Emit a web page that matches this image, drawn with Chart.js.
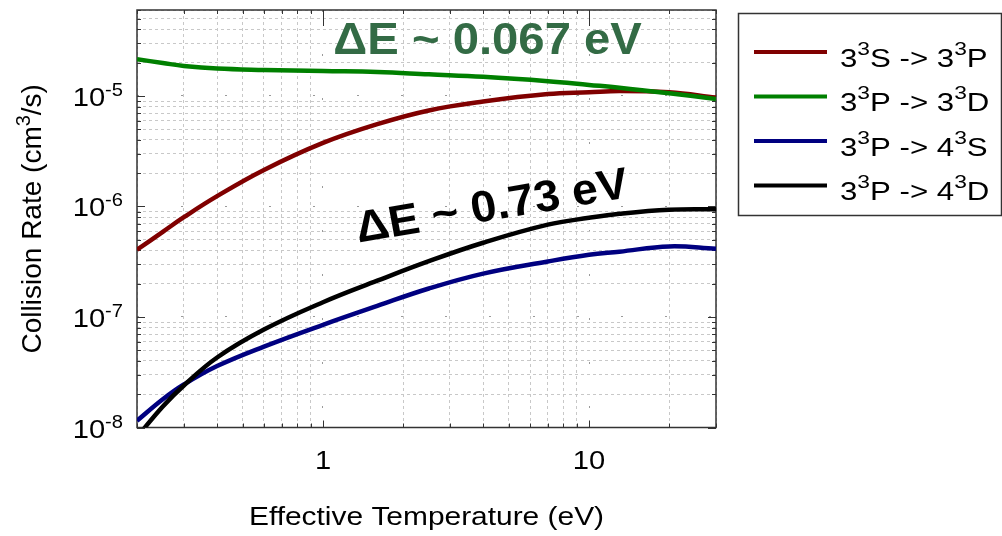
<!DOCTYPE html>
<html lang="en">
  <head>
    <meta charset="UTF-8" />
    <title>Collision Rate</title>
    <script src="https://cdn.jsdelivr.net/npm/chart.js"></script>
    <style>
      body { margin: 0; background: #fff; }
      #wrap { width: 1002px; height: 536px; }
    </style>
  </head>
  <body>
    <div id="wrap"><canvas id="grafica" width="1002" height="536"></canvas></div>
    <script>
      // datos (temperatura efectiva en eV, tasa en cm^3/s)
      const temperature = [0.2, 0.25, 0.3, 0.4, 0.6, 1, 1.6, 2.5, 4, 7, 10, 13, 20, 30];
      const rate3S3P = [4.06e-7, 5.9e-7, 8.0e-7, 1.24e-6, 2.14e-6, 3.76e-6, 5.56e-6, 7.4e-6, 8.9e-6, 1.04e-5, 1.08e-5, 1.11e-5, 1.08e-5, 9.7e-6];
      const rate3P3D = [2.15e-5, 1.99e-5, 1.87e-5, 1.77e-5, 1.72e-5, 1.68e-5, 1.65e-5, 1.57e-5, 1.49e-5, 1.36e-5, 1.26e-5, 1.19e-5, 1.06e-5, 9.4e-6];
      const rate3P4S = [1.15e-8, 1.8e-8, 2.45e-8, 3.6e-8, 5.4e-8, 8.5e-8, 1.26e-7, 1.81e-7, 2.47e-7, 3.18e-7, 3.66e-7, 3.9e-7, 4.35e-7, 4.15e-7];
      const rate3P4D = [8.2e-9, 1.55e-8, 2.4e-8, 4.3e-8, 7.7e-8, 1.36e-7, 2.13e-7, 3.2e-7, 4.7e-7, 6.85e-7, 7.9e-7, 8.6e-7, 9.35e-7, 9.45e-7];

      const seriesLabels = ["3^3S -> 3^3P", "3^3P -> 3^3D", "3^3P -> 4^3S", "3^3P -> 4^3D"];
      const seriesColors = ["#800000", "#008000", "#000080", "#000000"];
      const seriesOrder = [2, 0, 3, 1]; // verde y negro encima

      const xRange = [0.2, 30];
      const yRange = [1e-8, 6e-5];
      const xTickLabels = ["1", "10"];
      const yTickLabels = ["10^{-8}", "10^{-7}", "10^{-6}", "10^{-5}"];
      const xTitle = "Effective Temperature (eV)";
      const yTitle = "Collision Rate (cm^3/s)";

      const annotations = [
        { text: "\u0394E ~ 0.067 eV", x: 1.094, y: 2.38e-5, color: "#336b45", size: 45, angle: 0 },
        { text: "\u0394E ~ 0.73 eV", x: 1.36, y: 4.71e-7, color: "#000000", size: 44, angle: -10 },
      ];

      const FONT = '"Liberation Sans", Arial, sans-serif';
      const seriesValues = [rate3S3P, rate3P3D, rate3P4S, rate3P4D];

      // ticks 1..9 de cada decada dentro del rango
      function logTicks(min, max) {
        var out = [];
        for (var e = Math.floor(Math.log10(min)); e <= Math.ceil(Math.log10(max)); e++) {
          for (var m = 1; m <= 9; m++) {
            var v = parseFloat((m * Math.pow(10, e)).toPrecision(6));
            if (v >= min * 0.999 && v <= max * 1.001) out.push({ value: v, major: m === 1 });
          }
        }
        return out;
      }

      function richParts(text) {
        var parts = [];
        var re = /\^\{([^}]*)\}|\^(.)|([^^]+)/g;
        var m;
        while ((m = re.exec(text))) {
          if (m[3] !== undefined) parts.push({ t: m[3], sup: false });
          else parts.push({ t: m[1] !== undefined ? m[1] : m[2], sup: true });
        }
        return parts;
      }

      // texto con superindices
      function drawRich(ctx, text, x, y, o) {
        var parts = richParts(text);
        var font = function (sz) { return (o.bold ? "bold " : "") + sz + "px " + FONT; };
        var w = 0;
        parts.forEach(function (p) {
          ctx.font = font(p.sup ? o.supSize : o.size);
          p.w = ctx.measureText(p.t).width;
          w += p.w;
        });
        ctx.save();
        ctx.translate(x, y);
        ctx.scale(o.sx || 1, 1);
        if (o.angle) ctx.rotate((o.angle * Math.PI) / 180);
        var cx = o.align === "center" ? -w / 2 : o.align === "right" ? -w : 0;
        ctx.fillStyle = o.color || "#000";
        ctx.textAlign = "left";
        ctx.textBaseline = "alphabetic";
        parts.forEach(function (p) {
          ctx.font = font(p.sup ? o.supSize : o.size);
          ctx.fillText(p.t, cx, p.sup ? -o.supRise : 0);
          cx += p.w;
        });
        ctx.restore();
      }

      const framePlugin = {
        id: "frame",
        beforeDatasetsDraw(chart) {
          const ctx = chart.ctx;
          const a = chart.chartArea;
          const xs = chart.scales.x;
          const ys = chart.scales.y;
          ctx.save();
          ctx.strokeStyle = "#333";
          ctx.lineWidth = 1.5;
          ctx.strokeRect(a.left, a.top, a.right - a.left, a.bottom - a.top);
          ctx.lineWidth = 1;
          ctx.beginPath();
          xs.ticks.forEach(function (t) {
            var px = Math.round(xs.getPixelForValue(t.value)) + 0.5;
            ctx.moveTo(px, a.bottom);
            ctx.lineTo(px, a.bottom - (t.major ? 7 : 4));
            ctx.moveTo(px, a.top);
            ctx.lineTo(px, a.top + (t.major ? 16 : 4));
          });
          ys.ticks.forEach(function (t) {
            var py = Math.round(ys.getPixelForValue(t.value)) + 0.5;
            ctx.moveTo(a.left, py);
            ctx.lineTo(a.left + (t.major ? 8 : 4), py);
            ctx.moveTo(a.right, py);
            ctx.lineTo(a.right - (t.major ? 8 : 4), py);
          });
          ctx.stroke();
          ctx.restore();
        },
        afterDraw(chart) {
          const ctx = chart.ctx;
          const a = chart.chartArea;
          const xs = chart.scales.x;
          const ys = chart.scales.y;

          // etiquetas de los ejes
          xTickLabels.forEach(function (lbl) {
            drawRich(ctx, lbl, xs.getPixelForValue(parseFloat(lbl)), 469, { size: 26, sx: 1.12, align: "center" });
          });
          yTickLabels.forEach(function (lbl) {
            var e = parseInt(lbl.match(/\{(-?\d+)\}/)[1]);
            drawRich(ctx, lbl, 123, ys.getPixelForValue(Math.pow(10, e)) + 10, { size: 26, supSize: 18, supRise: 10, sx: 1.12, align: "right" });
          });
          drawRich(ctx, xTitle, (a.left + a.right) / 2, 525, { size: 26, sx: 1.15, align: "center" });
          ctx.save();
          ctx.translate(41, (a.top + a.bottom) / 2);
          ctx.rotate(-Math.PI / 2);
          drawRich(ctx, yTitle, 0, 0, { size: 28, supSize: 20, supRise: 11, align: "center" });
          ctx.restore();

          // anotaciones
          annotations.forEach(function (n) {
            drawRich(ctx, n.text, xs.getPixelForValue(n.x), ys.getPixelForValue(n.y), {
              size: n.size, bold: true, color: n.color, angle: n.angle, sx: 1.05, align: "left",
            });
          });

          // leyenda
          ctx.save();
          ctx.strokeStyle = "#333";
          ctx.lineWidth = 1.5;
          ctx.strokeRect(738.5, 13.5, 263, 202);
          chart.data.datasets.forEach(function (ds, i) {
            var y = 52 + i * 44.5;
            ctx.strokeStyle = ds.borderColor;
            ctx.lineWidth = 4;
            ctx.beginPath();
            ctx.moveTo(754, y);
            ctx.lineTo(827, y);
            ctx.stroke();
            drawRich(ctx, ds.label, 840, y + 14.5, { size: 26, supSize: 19, supRise: 12, sx: 1.2, align: "left" });
          });
          ctx.restore();
        },
      };

      const gridColor = function (c) { return c.tick && c.tick.major ? "#9a9a9a" : "#c8c8c8"; };
      const gridDash = function (c) { return c.tick && c.tick.major ? [2, 42] : [3, 3]; };

      new Chart(document.getElementById("grafica").getContext("2d"), {
        type: "line",
        data: {
          datasets: seriesLabels.map(function (label, i) {
            return {
              label: label,
              data: temperature.map(function (t, j) { return { x: t, y: seriesValues[i][j] }; }),
              borderColor: seriesColors[i],
              backgroundColor: seriesColors[i],
              borderWidth: 4.5,
              pointRadius: 0,
              fill: false,
              tension: 0.4,
              order: seriesOrder[i],
            };
          }),
        },
        options: {
          responsive: false,
          animation: false,
          events: [],
          layout: { padding: { left: 137, top: 10, right: 286, bottom: 108.5 } },
          plugins: { legend: { display: false }, tooltip: { enabled: false } },
          scales: {
            x: {
              type: "logarithmic",
              min: xRange[0],
              max: xRange[1],
              afterBuildTicks: function (s) { s.ticks = logTicks(xRange[0], xRange[1]); },
              afterFit: function (s) { s.height = 0; },
              ticks: { display: false },
              title: { display: false },
              grid: { drawTicks: false, color: gridColor, lineWidth: 1 },
              border: { display: false, dash: gridDash },
            },
            y: {
              type: "logarithmic",
              min: yRange[0],
              max: yRange[1],
              afterBuildTicks: function (s) { s.ticks = logTicks(yRange[0], yRange[1]); },
              afterFit: function (s) { s.width = 0; },
              ticks: { display: false },
              title: { display: false },
              grid: { drawTicks: false, color: gridColor, lineWidth: 1 },
              border: { display: false, dash: gridDash },
            },
          },
        },
        plugins: [framePlugin],
      });
    </script>
  </body>
</html>
